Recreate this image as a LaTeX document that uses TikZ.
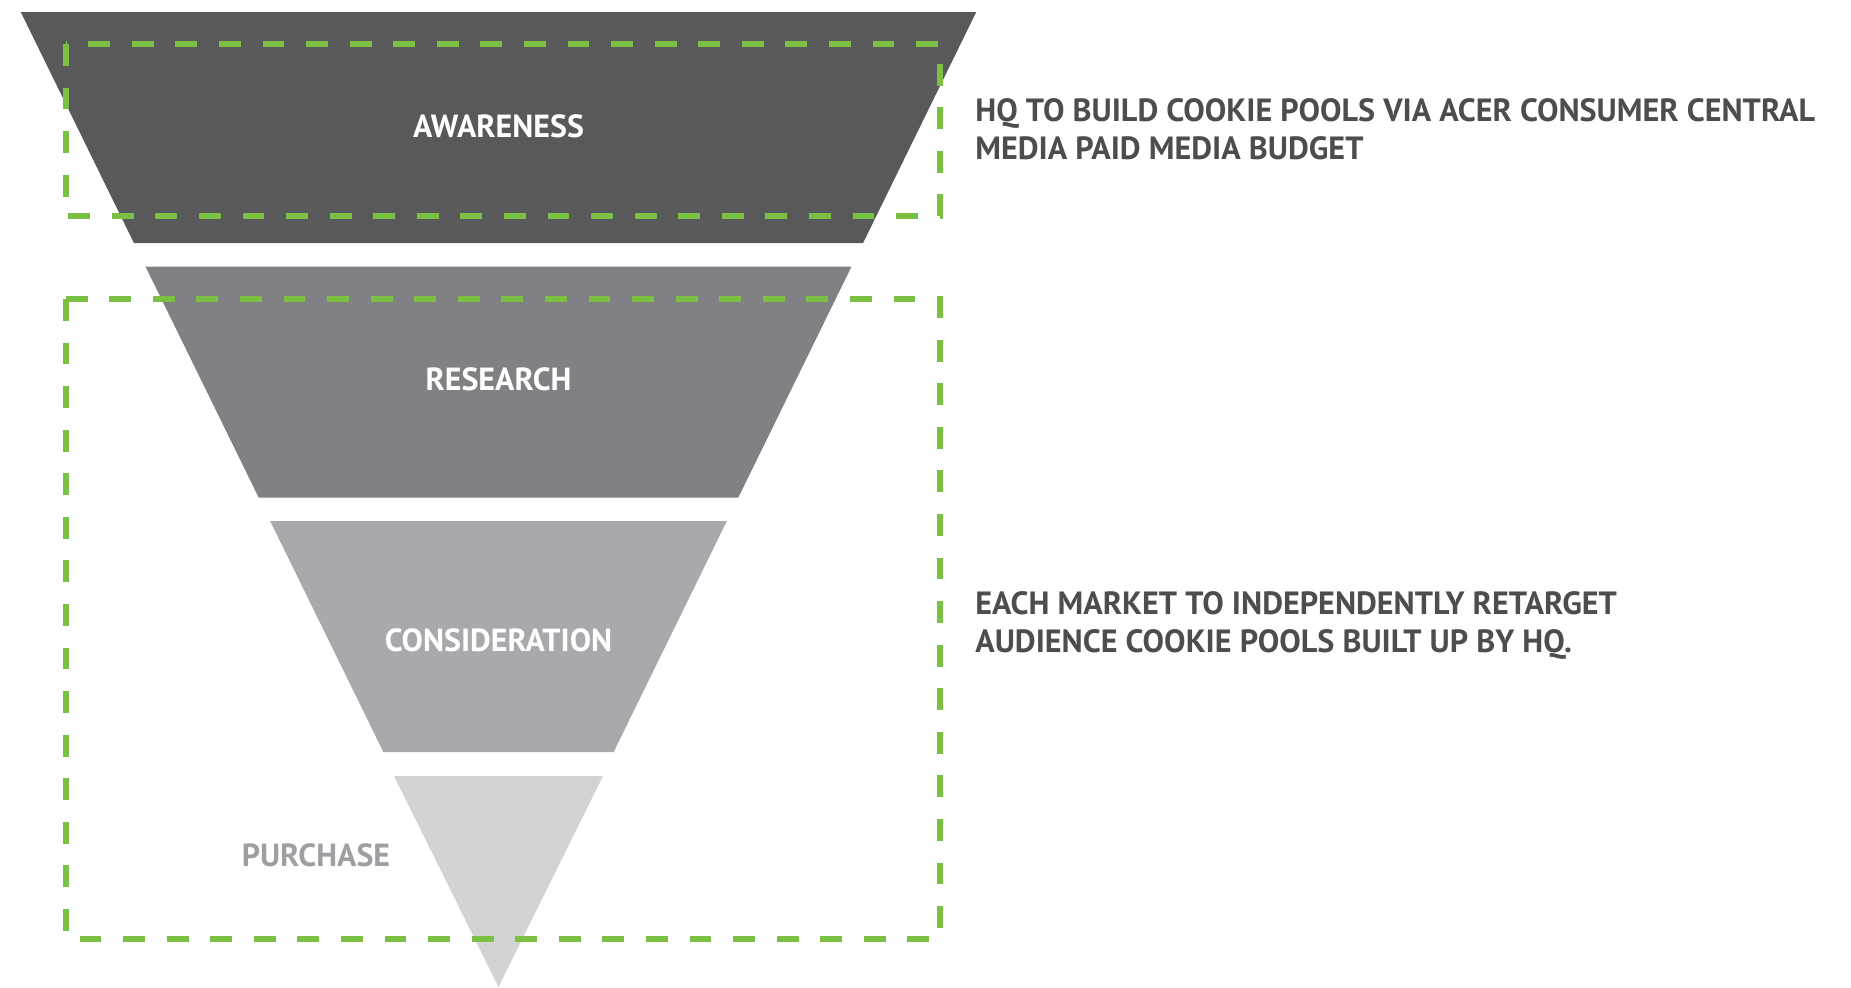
\documentclass[tikz,border=0pt]{standalone}
\usepackage{fontspec}
\setmainfont{PT Sans}
\usetikzlibrary{positioning}

\definecolor{funnelA}{HTML}{58595B}
\definecolor{funnelB}{HTML}{808184}
\definecolor{funnelC}{HTML}{A7A9AC}
\definecolor{funnelD}{HTML}{D1D3D4}
\definecolor{notegray}{HTML}{4D4D4F}
\definecolor{purchasegray}{HTML}{9D9FA2}
\definecolor{poolgreen}{HTML}{7AC143}

\begin{document}
\begin{tikzpicture}[x=0.02cm, y=-0.02cm,
    stage/.style={font=\fontsize{18.2}{21}\selectfont\bfseries, text=white, inner sep=0pt},
    note/.style={font=\fontsize{18.3}{21.6}\selectfont\bfseries, text=notegray,
                 align=left, anchor=west, inner sep=0pt},
    pool/.style={draw=poolgreen, line width=3pt, dash pattern=on 12.4pt off 12.4pt}]

    % Canvas
    \useasboundingbox (0,0) rectangle (1851,987);

    % Funnel bands (sides run to the apex at (498.5,987))
    \foreach \ya/\col in {12/funnelA, 266.5/funnelB, 521/funnelC} {
        \fill[\col] ({498.5-0.49*(987-\ya)},\ya) -- ({498.5+0.49*(987-\ya)},\ya)
                 -- ({498.5+0.49*(756-\ya)},{\ya+231}) -- ({498.5-0.49*(756-\ya)},{\ya+231}) -- cycle;
    }
    \fill[funnelD] (394,776) -- (603,776) -- (498.5,987) -- cycle;

    % Dashed pools
    \draw[pool] (66,44) rectangle (940,216);
    \draw[pool] (66,299) rectangle (940,939);

    % Stage labels
    \node[stage] (awareness) at (498.5,126) {AWARENESS};
    \node[stage] (research) at (498.5,379) {RESEARCH};
    \node[stage] (consideration) at (498.5,640) {CONSIDERATION};
    \node[stage, text=purchasegray] (purchase) at (316,855) {PURCHASE};

    % Notes
    \node[note] (hqnote) at (975,129) {HQ TO BUILD COOKIE POOLS VIA ACER CONSUMER CENTRAL\\MEDIA PAID MEDIA BUDGET};
    \node[note] (marketnote) at (975,625) {EACH MARKET TO INDEPENDENTLY RETARGET\\AUDIENCE COOKIE POOLS BUILT UP BY HQ.};
\end{tikzpicture}
\end{document}
